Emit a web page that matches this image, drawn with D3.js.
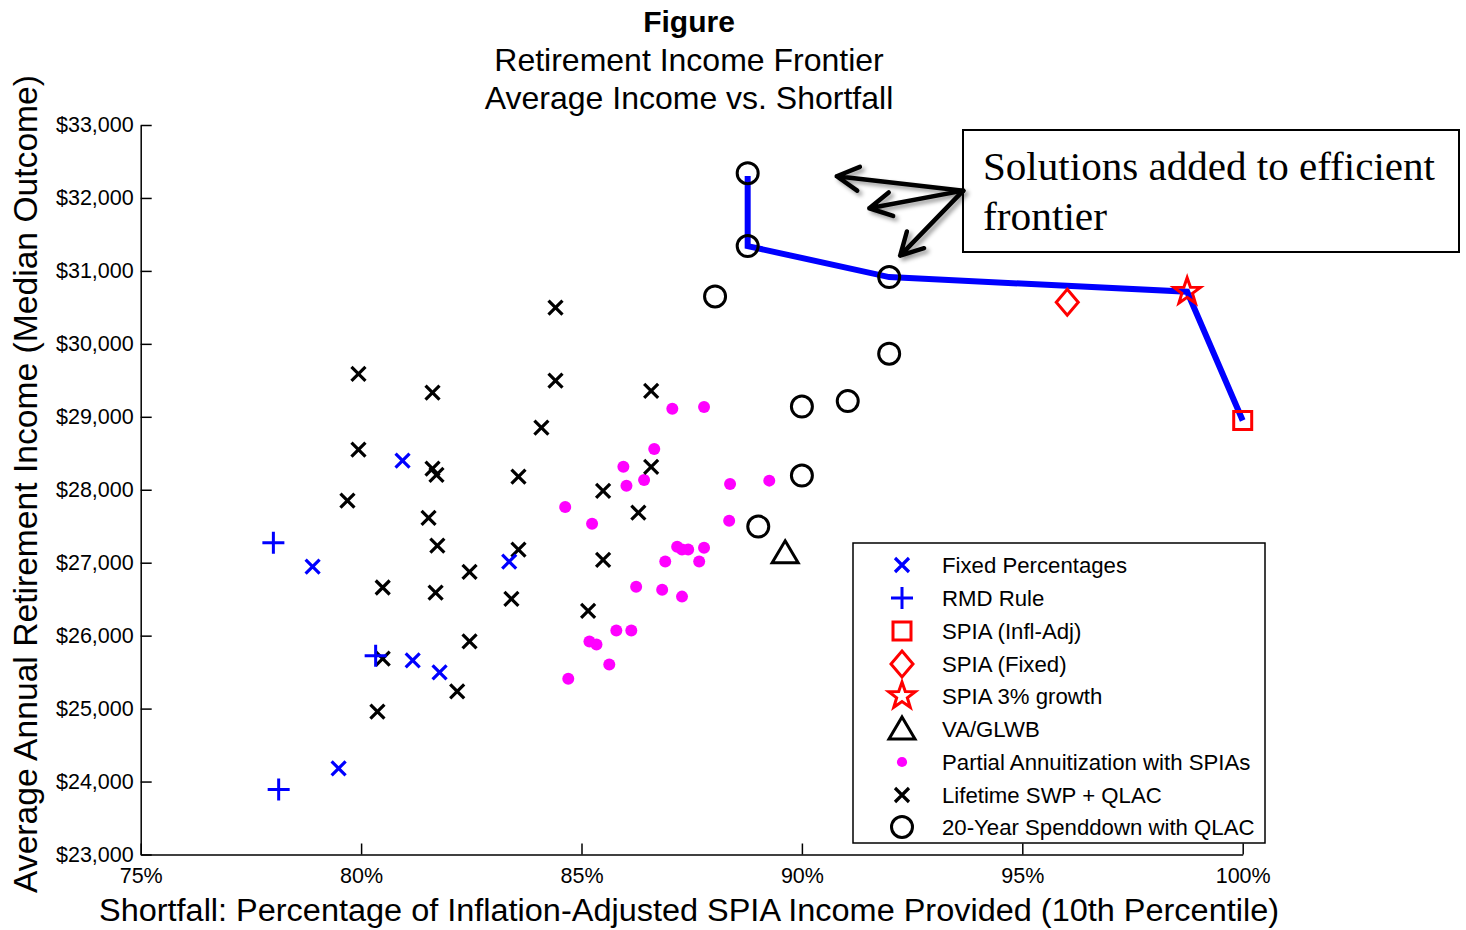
<!DOCTYPE html>
<html>
<head>
<meta charset="utf-8">
<script src="https://cdn.jsdelivr.net/npm/d3@7"></script>
<style>
  body { margin: 0; background: #fff; }
  text { font-family: "Liberation Sans", Arial, sans-serif; }
  text.serif { font-family: "Liberation Serif", "Times New Roman", serif; }
</style>
</head>
<body>
<svg></svg>
<script>
const SVG_WIDTH = 1466, SVG_HEIGHT = 930;

// shortfall (%) vs average income ($)
const fixedPct   = [[80.94, 28400], [78.90, 26945], [83.36, 27015], [81.17, 25660], [81.78, 25495], [79.49, 24180]];
const rmdRule    = [[78.01, 27275], [80.33, 25725], [78.13, 23890]];
const spiaInfl   = [[100.0, 28950]];
const spiaFixed  = [[96.02, 30570]];
const spia3      = [[98.74, 30715]];
const vaGlwb     = [[89.62, 27135]];
const partialAnn = [[87.06, 29110], [87.78, 29135], [86.65, 28560], [85.95, 28315], [86.42, 28135], [86.02, 28055],
                    [88.37, 28080], [89.26, 28125], [84.63, 27765], [85.24, 27535], [88.35, 27575], [87.17, 27220],
                    [87.28, 27180], [87.42, 27180], [87.78, 27205], [86.90, 27015], [87.67, 27015], [86.24, 26670],
                    [86.83, 26630], [87.28, 26535], [85.79, 26070], [86.13, 26070], [85.18, 25920], [85.34, 25880],
                    [85.63, 25605], [84.70, 25410]];
const swpQlac    = [[79.94, 29590], [81.62, 29330], [84.41, 30495], [84.41, 29495], [86.58, 29355], [84.09, 28850],
                    [79.94, 28550], [81.62, 28290], [81.71, 28205], [83.57, 28180], [86.58, 28315], [79.69, 27850],
                    [85.49, 27985], [81.53, 27615], [86.29, 27685], [81.73, 27235], [83.57, 27180], [85.49, 27040],
                    [82.46, 26875], [80.49, 26660], [81.69, 26590], [83.41, 26505], [85.15, 26340], [82.46, 25920],
                    [80.49, 25685], [82.18, 25235], [80.37, 24960]];
const spenddown  = [[88.77, 32340], [88.77, 31340], [91.98, 30915], [88.03, 30650], [91.98, 29865], [91.04, 29215],
                    [90.00, 29140], [90.00, 28195], [89.01, 27495]];
const frontier   = [[88.77, 32300], [88.77, 31340], [91.98, 30915], [98.74, 30715], [100.0, 28950]];

const xTicks = [75, 80, 85, 90, 95, 100];
const yTicks = [23000, 24000, 25000, 26000, 27000, 28000, 29000, 30000, 31000, 32000, 33000];

const legendLabels = ["Fixed Percentages", "RMD Rule", "SPIA (Infl-Adj)", "SPIA (Fixed)", "SPIA 3% growth",
                      "VA/GLWB", "Partial Annuitization with SPIAs", "Lifetime SWP + QLAC", "20-Year Spenddown with QLAC"];

// annotation arrows: from the box to the added points (data units)
const arrowFrom = [93.66, 32100];
const arrowTips = [[90.79, 32297], [91.53, 31859], [92.23, 31210]];

const PLOT = { left: 140.7, right: 1242.7, top: 125, bottom: 854.5 };

var svg = d3.select("svg").attr("width", SVG_WIDTH).attr("height", SVG_HEIGHT);

var defs = svg.append("defs");
var shadow = defs.append("filter").attr("id", "shadow")
    .attr("x", "-20%").attr("y", "-20%").attr("width", "150%").attr("height", "150%");
shadow.append("feDropShadow").attr("dx", 3).attr("dy", 3).attr("stdDeviation", 2)
    .attr("flood-color", "#000").attr("flood-opacity", 0.4);

var x = d3.scaleLinear().domain([75, 100]).range([PLOT.left, PLOT.right]);
var y = d3.scaleLinear().domain([23000, 33000]).range([PLOT.bottom, PLOT.top]);

// titles
var title = svg.append("g").attr("text-anchor", "middle").attr("font-size", 32);
title.append("text").attr("x", 689).attr("y", 32).attr("font-weight", "bold").attr("font-size", 30).text("Figure");
title.append("text").attr("x", 689).attr("y", 71).text("Retirement Income Frontier");
title.append("text").attr("x", 689).attr("y", 109).text("Average Income vs. Shortfall");

// axes, ticks pointing inward like matlab
svg.append("g")
    .attr("transform", "translate(0," + PLOT.bottom + ")")
    .call(d3.axisBottom(x).tickValues(xTicks).tickSize(-11).tickSizeOuter(0).tickPadding(13)
        .tickFormat(function(d) { return d + "%"; }));
svg.append("g")
    .attr("transform", "translate(" + PLOT.left + ",0)")
    .call(d3.axisLeft(y).tickValues(yTicks).tickSize(-11).tickSizeOuter(0).tickPadding(7)
        .tickFormat(d3.format("$,")));
svg.selectAll(".tick text").attr("font-size", 21.5).attr("fill", "#000");
svg.selectAll(".domain, .tick line").attr("stroke", "#000").attr("stroke-width", 1.5);

svg.append("text")
    .attr("x", 689).attr("y", 921)
    .attr("text-anchor", "middle").attr("font-size", 31)
    .attr("textLength", 1180).attr("lengthAdjust", "spacingAndGlyphs")
    .text("Shortfall: Percentage of Inflation-Adjusted SPIA Income Provided (10th Percentile)");
svg.append("text")
    .attr("transform", "translate(37,484) rotate(-90)")
    .attr("text-anchor", "middle").attr("font-size", 33)
    .attr("textLength", 818).attr("lengthAdjust", "spacingAndGlyphs")
    .text("Average Annual Retirement Income (Median Outcome)");

// marker shapes
function starPath(R, r) {
    var pts = [];
    for (var i = 0; i < 10; ++i) {
        var a = -Math.PI / 2 + i * Math.PI / 5, rr = (i % 2 == 0) ? R : r;
        pts.push([rr * Math.cos(a), rr * Math.sin(a)]);
    }
    return "M" + pts.join("L") + "Z";
}
const MARKERS = [
    { d: "M-7,-7L7,7M-7,7L7,-7", stroke: "#0000ff", fill: "none", w: 3.2 },
    { d: "M-11,0H11M0,-11V11", stroke: "#0000ff", fill: "none", w: 3 },
    { d: "M-9,-9H9V9H-9Z", stroke: "#ff0000", fill: "none", w: 3 },
    { d: "M0,-13L11,0L0,13L-11,0Z", stroke: "#ff0000", fill: "none", w: 3 },
    { d: starPath(14, 5.6), stroke: "#ff0000", fill: "none", w: 3 },
    { d: "M0,-12L13,10L-13,10Z", stroke: "#000", fill: "none", w: 3 },
    { d: "M-6,0A6,6 0 1,0 6,0A6,6 0 1,0 -6,0Z", stroke: "none", fill: "#ff00ff", w: 0 },
    { d: "M-7,-7L7,7M-7,7L7,-7", stroke: "#000", fill: "none", w: 3.2 },
    { d: "M-10.5,0A10.5,10.5 0 1,0 10.5,0A10.5,10.5 0 1,0 -10.5,0Z", stroke: "#000", fill: "none", w: 3 }
];
const SERIES = [fixedPct, rmdRule, spiaInfl, spiaFixed, spia3, vaGlwb, partialAnn, swpQlac, spenddown];

// efficient frontier line
svg.append("path")
    .datum(frontier)
    .attr("fill", "none").attr("stroke", "#0000ff").attr("stroke-width", 6)
    .attr("d", d3.line().x(function(d) { return x(d[0]); }).y(function(d) { return y(d[1]); }));

// scatter, drawn back to front
var drawOrder = [6, 7, 0, 1, 8, 5, 3, 2, 4];
drawOrder.forEach(function(k) {
    var m = MARKERS[k];
    svg.append("g").selectAll("path").data(SERIES[k]).enter().append("path")
        .attr("transform", function(d) { return "translate(" + x(d[0]) + "," + y(d[1]) + ")"; })
        .attr("d", m.d)
        .attr("fill", m.fill).attr("stroke", m.stroke).attr("stroke-width", m.w);
});

// legend
var legend = svg.append("g").attr("transform", "translate(853,543)");
legend.append("rect").attr("width", 412).attr("height", 300)
    .attr("fill", "#fff").attr("stroke", "#000").attr("stroke-width", 1.5);
var rowY = [22, 55, 88, 121, 153, 186, 219, 252, 284];
legendLabels.forEach(function(label, i) {
    var m = MARKERS[i];
    var row = legend.append("g").attr("transform", "translate(0," + rowY[i] + ")");
    row.append("path")
        .attr("transform", "translate(49,0)" + (i == 6 ? " scale(0.85)" : ""))
        .attr("d", m.d)
        .attr("fill", m.fill).attr("stroke", m.stroke).attr("stroke-width", m.w);
    row.append("text").attr("x", 89).attr("y", 7.5).attr("font-size", 22.2).text(label);
});

// annotation box
var note = svg.append("g");
note.append("rect").attr("x", 963).attr("y", 130).attr("width", 496).attr("height", 122)
    .attr("fill", "#fff").attr("stroke", "#000").attr("stroke-width", 2);
note.append("text").attr("class", "serif").attr("x", 983).attr("y", 180).attr("font-size", 40)
    .attr("textLength", 452).attr("lengthAdjust", "spacingAndGlyphs")
    .text("Solutions added to efficient");
note.append("text").attr("class", "serif").attr("x", 983).attr("y", 230).attr("font-size", 40)
    .attr("textLength", 124).attr("lengthAdjust", "spacingAndGlyphs")
    .text("frontier");

var arrows = svg.append("g").attr("filter", "url(#shadow)")
    .attr("stroke", "#000").attr("stroke-width", 4.5).attr("fill", "none")
    .attr("stroke-linecap", "round").attr("stroke-linejoin", "round");
arrowTips.forEach(function(t) {
    var x0 = x(arrowFrom[0]), y0 = y(arrowFrom[1]), x1 = x(t[0]), y1 = y(t[1]);
    var a = Math.atan2(y0 - y1, x0 - x1), L = 25, s = 0.5;
    arrows.append("path").attr("d",
        "M" + x0 + "," + y0 + "L" + x1 + "," + y1 +
        "M" + (x1 + L * Math.cos(a - s)) + "," + (y1 + L * Math.sin(a - s)) +
        "L" + x1 + "," + y1 +
        "L" + (x1 + L * Math.cos(a + s)) + "," + (y1 + L * Math.sin(a + s)));
});
</script>
</body>
</html>
